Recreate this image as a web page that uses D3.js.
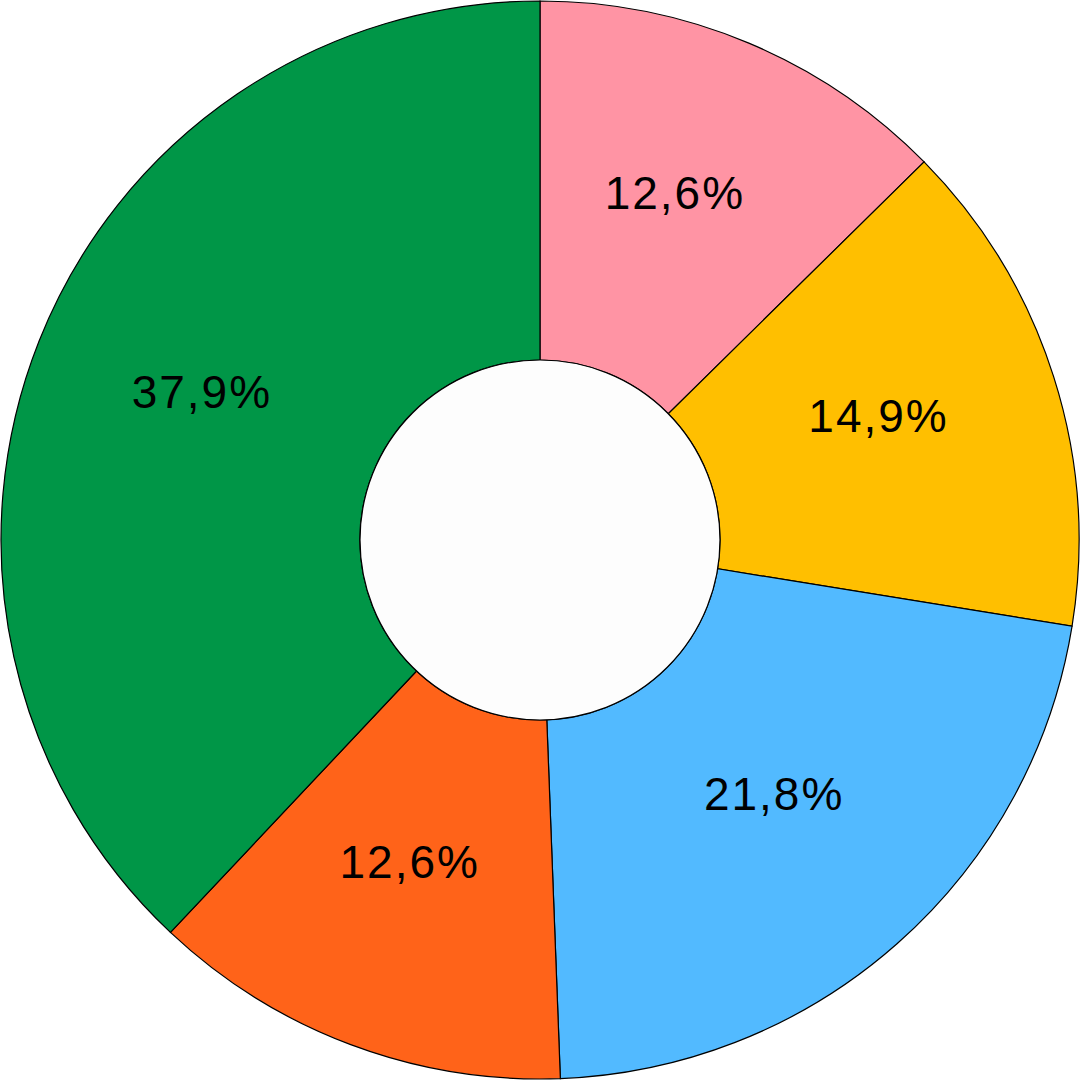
<!DOCTYPE html>
<html>
<head>
<meta charset="utf-8">
<script src="https://cdn.jsdelivr.net/npm/d3@7"></script>
<style>
  html, body { margin: 0; padding: 0; background: #ffffff; }
</style>
</head>
<body>
<div class="chart"></div>
<script>
// data
var categories = ["A", "B", "C", "D", "E"];
var values = [12.6, 14.9, 21.8, 12.6, 37.9];
var labels = ["12,6%", "14,9%", "21,8%", "12,6%", "37,9%"];
var colors = ["#FF94A4", "#FFBF00", "#52BAFF", "#FF6319", "#009647"];

// setup
var w = 1080, h = 1080,
    cx = 540, cy = 540,
    outerR = 539, innerR = 180;

var svg = d3.select(".chart")
    .append("svg")
    .attr("width", w)
    .attr("height", h)
  .append("g")
    .attr("transform", "translate(" + cx + "," + cy + ")");

var pie = d3.pie()
    .sort(null)
    .value(function(d) { return d; });

var arc = d3.arc()
    .innerRadius(innerR)
    .outerRadius(outerR);

var arcs = pie(values);

// slices
svg.selectAll(".slice")
    .data(arcs)
    .enter()
    .append("path")
    .attr("class", "slice")
    .attr("d", arc)
    .style("fill", function(d, i) { return colors[i]; })
    .style("stroke", "#000")
    .style("stroke-width", 1.2);

// hole
svg.append("circle")
    .attr("r", innerR)
    .style("fill", "#fdfdfd")
    .style("stroke", "#000")
    .style("stroke-width", 1.2);

// labels
svg.selectAll(".label")
    .data(arcs)
    .enter()
    .append("text")
    .attr("class", "label")
    .attr("transform", function(d) { return "translate(" + arc.centroid(d) + ")"; })
    .attr("dx", -4)
    .attr("dy", "0.02em")
    .style("text-anchor", "middle")
    .style("font-family", "'Liberation Sans', Arial, sans-serif")
    .style("font-size", "46px")
    .style("letter-spacing", "2px")
    .style("fill", "#000")
    .text(function(d, i) { return labels[i]; });
</script>
</body>
</html>
